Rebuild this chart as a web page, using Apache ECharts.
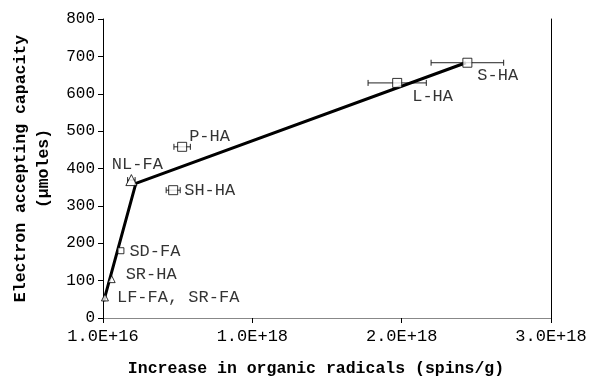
<!DOCTYPE html>
<html>
<head>
<meta charset="utf-8">
<script src="https://cdn.jsdelivr.net/npm/echarts@6/dist/echarts.min.js"></script>
<style>
  html, body { margin: 0; padding: 0; background: #fff; }
  #chart { width: 589px; height: 379px; }
</style>
</head>
<body>
<div id="chart"></div>
<script>
// Humic / fulvic acid samples
const samples = ['LF-FA, SR-FA', 'SR-HA', 'SD-FA', 'NL-FA', 'SH-HA', 'P-HA', 'L-HA', 'S-HA'];
// Increase in organic radicals (spins/g)
const radicals = [2.3e16, 6.8e16, 1.3e17, 2.0e17, 4.8e17, 5.4e17, 1.98e18, 2.45e18];
// Electron accepting capacity (µmoles)
const eac = [55, 104, 180, 369, 342, 458, 629, 683];
// Horizontal error (spins/g)
const radicalsErr = [0, 0, 0, 2.5e16, 4.7e16, 5.5e16, 1.95e17, 2.43e17];
// Two-segment linear fit
const fitX = [1.5e16, 2.3e17, 2.44e18];
const fitY = [45, 360, 683];

const xMin = 1e16, xStep = 1e18, xMax = 3.01e18;
const yMin = 0, yMax = 800, yStep = 100;

const FONT = 'Liberation Mono';

// marker look and label placement per sample
const markerStyle = {
  'LF-FA, SR-FA': { symbol: 'triangle', size: 7, pos: 'right', dist: 8, off: [0, 0] },
  'SR-HA': { symbol: 'triangle', size: 7, pos: 'right', dist: 10, off: [0, -5] },
  'SD-FA': { symbol: 'rect', size: 6, pos: 'right', dist: 5, off: [0, 1] },
  'NL-FA': { symbol: 'triangle', size: 11, pos: 'top', dist: 1, off: [6, 0] },
  'SH-HA': { symbol: 'rect', size: 9, pos: 'right', dist: 6, off: [0, 0] },
  'P-HA': { symbol: 'rect', size: 9, pos: 'right', dist: 2, off: [0, -10] },
  'L-HA': { symbol: 'rect', size: 9, pos: 'right', dist: 10, off: [0, 14] },
  'S-HA': { symbol: 'rect', size: 9, pos: 'right', dist: 5, off: [0, 13] }
};

const points = samples.map((name, i) => {
  const s = markerStyle[name];
  return {
    name: name,
    value: [radicals[i], eac[i]],
    symbol: s.symbol,
    symbolSize: s.size,
    label: { show: true, position: s.pos, distance: s.dist, offset: s.off, formatter: name }
  };
});

const errData = [];
samples.forEach((name, i) => {
  if (radicalsErr[i] > 0) errData.push([radicals[i], eac[i], radicalsErr[i]]);
});

const fitData = fitX.map((x, i) => [x, fitY[i]]);

const chart = echarts.init(document.getElementById('chart'), null, { renderer: 'canvas' });

chart.setOption({
  animation: false,
  backgroundColor: '#fff',
  grid: { left: 103, right: 38, top: 19, bottom: 61, containLabel: false, outerBoundsMode: 'none' },
  xAxis: [{
    type: 'value',
    min: xMin, max: xMax, interval: xStep,
    name: 'Increase in organic radicals (spins/g)',
    nameLocation: 'middle',
    nameGap: 42,
    nameTextStyle: { fontFamily: FONT, fontWeight: 'bold', fontSize: 16.5, color: '#000', padding: [0, 22, 0, 0] },
    axisLine: { lineStyle: { color: '#000', width: 1 } },
    axisTick: { show: true, inside: false, length: 5, lineStyle: { color: '#000' } },
    axisLabel: {
      fontFamily: FONT, fontSize: 17, color: '#000', margin: 10,
      formatter: v => v.toExponential(1).toUpperCase()
    },
    splitLine: { show: false }
  }, {
    type: 'value', position: 'top',
    min: xMin, max: xMax, interval: xStep,
    axisLine: { show: true, lineStyle: { color: '#888', width: 1 } },
    axisTick: { show: false }, axisLabel: { show: false }, splitLine: { show: false }
  }],
  yAxis: [{
    type: 'value',
    min: yMin, max: yMax, interval: yStep,
    name: 'Electron accepting capacity\n(\u03bcmoles)',
    nameLocation: 'middle',
    nameGap: 48,
    nameRotate: 90,
    nameTextStyle: { fontFamily: FONT, fontWeight: 'bold', fontSize: 16.5, color: '#000', lineHeight: 23 },
    axisLine: { show: true, lineStyle: { color: '#000', width: 1 } },
    axisTick: { show: true, inside: false, length: 5, lineStyle: { color: '#000' } },
    axisLabel: { fontFamily: FONT, fontSize: 16, color: '#000', margin: 8 },
    splitLine: { show: false }
  }, {
    type: 'value', position: 'right',
    min: yMin, max: yMax, interval: yStep,
    axisLine: { show: true, lineStyle: { color: '#000', width: 1 } },
    axisTick: { show: false }, axisLabel: { show: false }, splitLine: { show: false }
  }],
  series: [{
    // horizontal error bars
    type: 'custom',
    xAxisIndex: 0, yAxisIndex: 0,
    z: 1,
    data: errData,
    renderItem: function (params, api) {
      const x = api.value(0), y = api.value(1), e = api.value(2);
      const a = api.coord([x - e, y]);
      const b = api.coord([x + e, y]);
      const cap = 3;
      const st = { stroke: '#222', lineWidth: 1 };
      return {
        type: 'group',
        children: [
          { type: 'line', shape: { x1: a[0], y1: a[1], x2: b[0], y2: b[1] }, style: st },
          { type: 'line', shape: { x1: a[0], y1: a[1] - cap, x2: a[0], y2: a[1] + cap }, style: st },
          { type: 'line', shape: { x1: b[0], y1: b[1] - cap, x2: b[0], y2: b[1] + cap }, style: st }
        ]
      };
    }
  }, {
    // fitted line
    type: 'line',
    xAxisIndex: 0, yAxisIndex: 0,
    z: 2,
    data: fitData,
    symbol: 'none',
    lineStyle: { color: '#000', width: 3 },
    silent: true
  }, {
    type: 'scatter',
    xAxisIndex: 0, yAxisIndex: 0,
    z: 3,
    data: points,
    itemStyle: { color: '#fff', borderColor: '#000', borderWidth: 1 },
    label: { fontFamily: FONT, fontSize: 17, color: '#000' }
  }]
});
</script>
</body>
</html>
